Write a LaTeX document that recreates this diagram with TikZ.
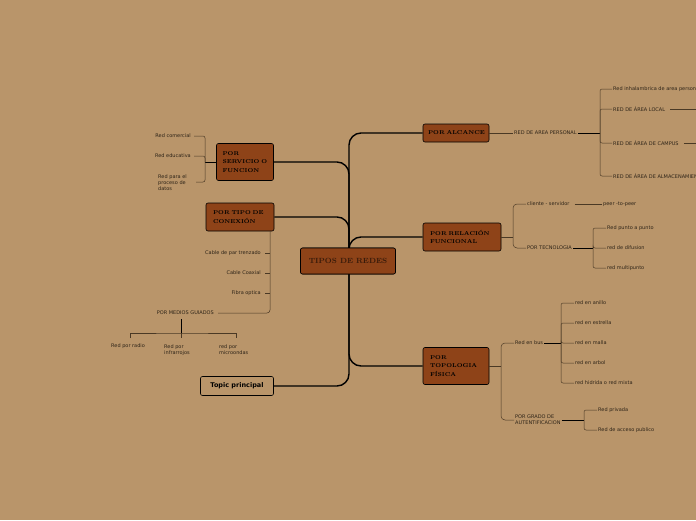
\documentclass[tikz,border=0pt]{standalone}
\usepackage{fontspec}
\setsansfont{DejaVu Sans}
\usepackage{tikz}
\definecolor{fondo}{HTML}{B9956A}
\definecolor{marron}{HTML}{8E4318}
\definecolor{linea}{HTML}{4A3925}
\definecolor{texto}{HTML}{2E2418}
\hyphenpenalty=10000
\begin{document}
\begin{tikzpicture}[x=1pt,y=-1pt,
  every node/.style={font=\sffamily\fontsize{5}{6}\selectfont, text=texto},
  principal/.style={draw=black, fill=marron, rounded corners=2pt, line width=0.6pt, font=\rmfamily\bfseries\fontsize{5.6}{8.5}\selectfont, text=black, align=left, inner sep=0pt},
  hoja/.style={inner sep=1pt, anchor=west, align=left},
  hojader/.style={inner sep=1pt, anchor=east, align=left},
  tronco/.style={draw=black, line width=1.4pt, rounded corners=12pt},
  rama/.style={draw=linea, line width=0.5pt},
  ramag/.style={draw=black, line width=1pt}
]
\fill[fondo] (0,0) rectangle (696,520);
\useasboundingbox (0,0) rectangle (696,520);

% temas principales
\node[principal, minimum width=95pt, minimum height=26pt, text=black!60!marron, font=\rmfamily\bfseries\fontsize{7.5}{9}\selectfont] (centro) at (348,261) {TIPOS DE REDES};
\coordinate (hub) at (349,261);
\node[principal, minimum width=66pt, minimum height=18pt, text width=56pt] (alc) at (456,133) {\mbox{POR ALCANCE}};
\node[principal, minimum width=78pt, minimum height=28pt, text width=64pt] (rel) at (462,237) {POR RELACIÓN\\FUNCIONAL};
\node[principal, minimum width=66pt, minimum height=37pt, text width=52pt] (topo) at (456,366) {POR\\TOPOLOGIA\\FÍSICA};
\node[principal, minimum width=57pt, minimum height=37pt, text width=45pt] (serv) at (245,162) {POR\\SERVICIO O\\FUNCION};
\node[principal, minimum width=68pt, minimum height=28pt, text width=54pt] (con) at (240,217) {POR TIPO DE\\CONEXIÓN};
\node[principal, fill=fondo, minimum width=73pt, minimum height=19pt, font=\sffamily\bfseries\fontsize{6.5}{8}\selectfont, text=black] (topic) at (237,386) {Topic principal};

% tronco
\draw[tronco] (hub) |- (alc.west);
\draw[tronco] (hub) |- (rel.west);
\draw[tronco] (hub) |- (topo.west);
\draw[tronco] (hub) |- (serv.east);
\draw[tronco] (hub) |- (con.east);
\draw[tronco] (hub) |- (topic.east);
\node[principal, minimum width=95pt, minimum height=26pt, text=black!60!marron, font=\rmfamily\bfseries\fontsize{7.5}{9}\selectfont] at (centro) {TIPOS DE REDES};

% por alcance
\node[hoja] (rap) at (513,133) {RED DE AREA PERSONAL};
\draw[rama] (alc.east) -- (rap.west);
\coordinate (b1) at (600,133);
\draw[ramag] (rap.east) -- (b1);
\node[hoja] (a1) at (612,89) {Red inhalambrica de area personal};
\node[hoja] (a2) at (612,109) {RED DE ÁREA LOCAL};
\node[hoja] (a3) at (612,143) {RED DE ÁREA DE CAMPUS};
\node[hoja] (a4) at (612,176) {RED DE ÁREA DE ALMACENAMIENTO};
\foreach \n in {a1,a2,a3,a4} \draw[rama, rounded corners=2pt] (b1) |- (\n.west);
\coordinate (a2x) at (700,109);
\coordinate (a3x) at (700,143);
\draw[rama] ([xshift=4pt]a2.east) -- (a2x);
\draw[rama] ([xshift=4pt]a3.east) -- (a3x);

% por relacion funcional
\coordinate (b2) at (513,237);
\draw[rama] (rel.east) -- (b2);
\node[hoja] (cs) at (526,204) {cliente - servidor};
\node[hoja] (tec) at (526,248) {POR TECNOLOGIA};
\foreach \n in {cs,tec} \draw[rama, rounded corners=4pt] (b2) |- (\n.west);
\node[hoja] (p2p) at (602,204) {peer -to-peer};
\draw[rama] ([xshift=4pt]cs.east) -- (p2p.west);
\coordinate (b3) at (593,248);
\draw[ramag] (tec.east) -- (b3);
\node[hoja] (t1) at (606,228) {Red punto a punto};
\node[hoja] (t2) at (606,248) {red de difusion};
\node[hoja] (t3) at (606,268) {red multipunto};
\foreach \n in {t1,t2,t3} \draw[rama, rounded corners=2pt] (b3) |- (\n.west);

% por topologia fisica
\coordinate (b4) at (501,366);
\draw[rama] (topo.east) -- (b4);
\node[hoja] (bus) at (514,343) {Red en bus};
\node[hoja] (grado) at (514,420) {POR GRADO DE\\AUTENTIFICACION};
\foreach \n in {bus,grado} \draw[rama, rounded corners=4pt] (b4) |- (\n.west);
\coordinate (b5) at (561,343);
\draw[ramag] (bus.east) -- (b5);
\node[hoja] (r1) at (574,303) {red en anillo};
\node[hoja] (r2) at (574,323) {red en estrella};
\node[hoja] (r3) at (574,343) {red en malla};
\node[hoja] (r4) at (574,363) {red en arbol};
\node[hoja] (r5) at (574,383) {red hidrida o red mixta};
\foreach \n in {r1,r2,r3,r4,r5} \draw[rama, rounded corners=2pt] (b5) |- (\n.west);
\coordinate (b6) at (584,420);
\draw[ramag] (grado.east) -- (b6);
\node[hoja] (g1) at (597,410) {Red privada};
\node[hoja] (g2) at (597,430) {Red de acceso publico};
\foreach \n in {g1,g2} \draw[rama, rounded corners=2pt] (b6) |- (\n.west);

% por servicio
\coordinate (b7) at (205,162);
\draw[ramag] (serv.west) -- (b7);
\node[hojader] (s1) at (192,136) {Red comercial};
\node[hojader] (s2) at (192,156) {Red educativa};
\node[hoja, text width=36pt] (s3) at (157,183) {Red para el\\proceso de\\datos};
\coordinate (s3e) at (194,182);
\foreach \n in {s1.east,s2.east,s3e} \draw[rama, rounded corners=2pt] (b7) |- ([xshift=2pt]\n);

% por tipo de conexion
\coordinate (b8) at (270,231);
\node[hojader] (c1) at (262,253) {Cable de par trenzado};
\node[hojader] (c2) at (262,273) {Cable Coaxial};
\node[hojader] (c3) at (262,293) {Fibra optica};
\node[hojader] (mg) at (215,313) {POR MEDIOS GUIADOS};
\draw[rama, rounded corners=3pt] (b8) |- ([xshift=3pt]mg.east);
\foreach \n in {c1,c2,c3} \draw[rama] ([xshift=3pt]\n.east) -- (\n.east -| b8);
\coordinate (b9) at (181,333);
\draw[ramag] ([yshift=-3pt]mg.south -| b9) -- (b9);
\node[hoja] (m1) at (110,346) {Red por radio};
\node[hoja] (m2) at (163,350) {Red por\\infrarrojos};
\node[hoja] (m3) at (218,350) {red por\\microondas};
\draw[rama] (130,338) |- (b9) -| (236,338);
\draw[rama] (b9) -- (181,338);
\end{tikzpicture}
\end{document}
